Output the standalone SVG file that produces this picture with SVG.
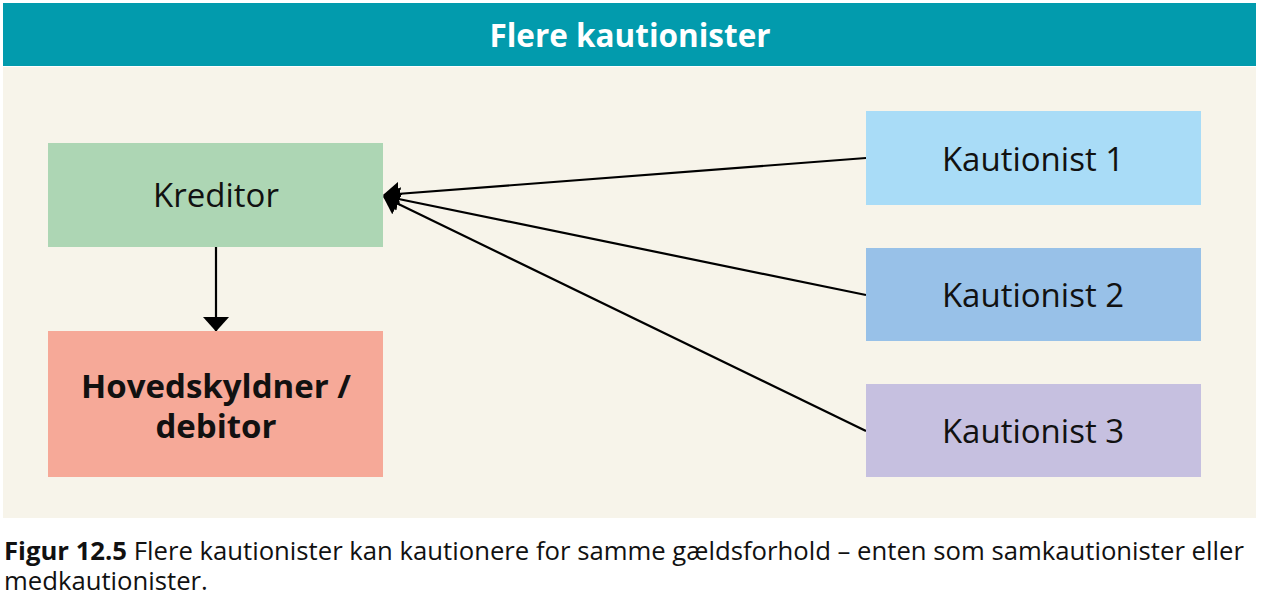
<svg xmlns="http://www.w3.org/2000/svg" width="1262" height="600" viewBox="0 0 1262 600">
<style>
.t{font-family:"Open Sans","Noto Sans",sans-serif;fill:#111;}
.box{font-size:33px;}
.b{font-weight:bold;}
.ln{stroke:#000;stroke-width:2.2;fill:none;}
</style>
<defs>
<marker id="ah" viewBox="0 0 16 24" refX="15" refY="12" markerWidth="16" markerHeight="24" markerUnits="userSpaceOnUse" orient="auto">
<path d="M0,0 L16,12 L0,24 z" fill="#000"/>
</marker>
<marker id="ahd" viewBox="0 0 15 27" refX="14.5" refY="13.5" markerWidth="15" markerHeight="27" markerUnits="userSpaceOnUse" orient="auto">
<path d="M0,0 L15,13.5 L0,27 z" fill="#000"/>
</marker>
</defs>
<rect x="0" y="0" width="1262" height="600" fill="#fff"/>
<rect x="3" y="67" width="1253" height="451" fill="#F7F4EA"/>
<g id="header">
<rect x="3" y="3" width="1253" height="63" fill="#029BAD"/>
<text class="t b" x="630" y="47" font-size="31.5" text-anchor="middle" style="fill:#fff">Flere kautionister</text>
</g>
<g id="connectors">
<line class="ln" x1="866" y1="158" x2="384" y2="195" marker-end="url(#ah)"/>
<line class="ln" x1="866" y1="295" x2="384" y2="196" marker-end="url(#ah)"/>
<line class="ln" x1="866" y1="431" x2="384" y2="197" marker-end="url(#ah)"/>
<line class="ln" x1="216" y1="247" x2="216" y2="331" marker-end="url(#ahd)"/>
</g>
<g id="kreditor">
<rect x="48" y="143" width="335" height="104" fill="#ADD6B4"/>
<text class="t box" x="216" y="207" text-anchor="middle">Kreditor</text>
</g>
<g id="hovedskyldner">
<rect x="48" y="331" width="335" height="146" fill="#F6A998"/>
<text class="t box b" x="216" y="398" text-anchor="middle">Hovedskyldner /</text>
<text class="t box b" x="216" y="438" text-anchor="middle">debitor</text>
</g>
<g id="kautionist1">
<rect x="866" y="111" width="335" height="94" fill="#A9DCF7"/>
<text class="t box" x="1033" y="171" text-anchor="middle">Kautionist 1</text>
</g>
<g id="kautionist2">
<rect x="866" y="248" width="335" height="93" fill="#98C1E8"/>
<text class="t box" x="1033" y="307" text-anchor="middle">Kautionist 2</text>
</g>
<g id="kautionist3">
<rect x="866" y="384" width="335" height="93" fill="#C6C0E0"/>
<text class="t box" x="1033" y="443" text-anchor="middle">Kautionist 3</text>
</g>
<g id="caption">
<text class="t" x="4" y="560" font-size="25.7"><tspan font-weight="bold">Figur 12.5</tspan> Flere kautionister kan kautionere for samme gældsforhold – enten som samkautionister eller</text>
<text class="t" x="4" y="590" font-size="25.7">medkautionister.</text>
</g>
</svg>
